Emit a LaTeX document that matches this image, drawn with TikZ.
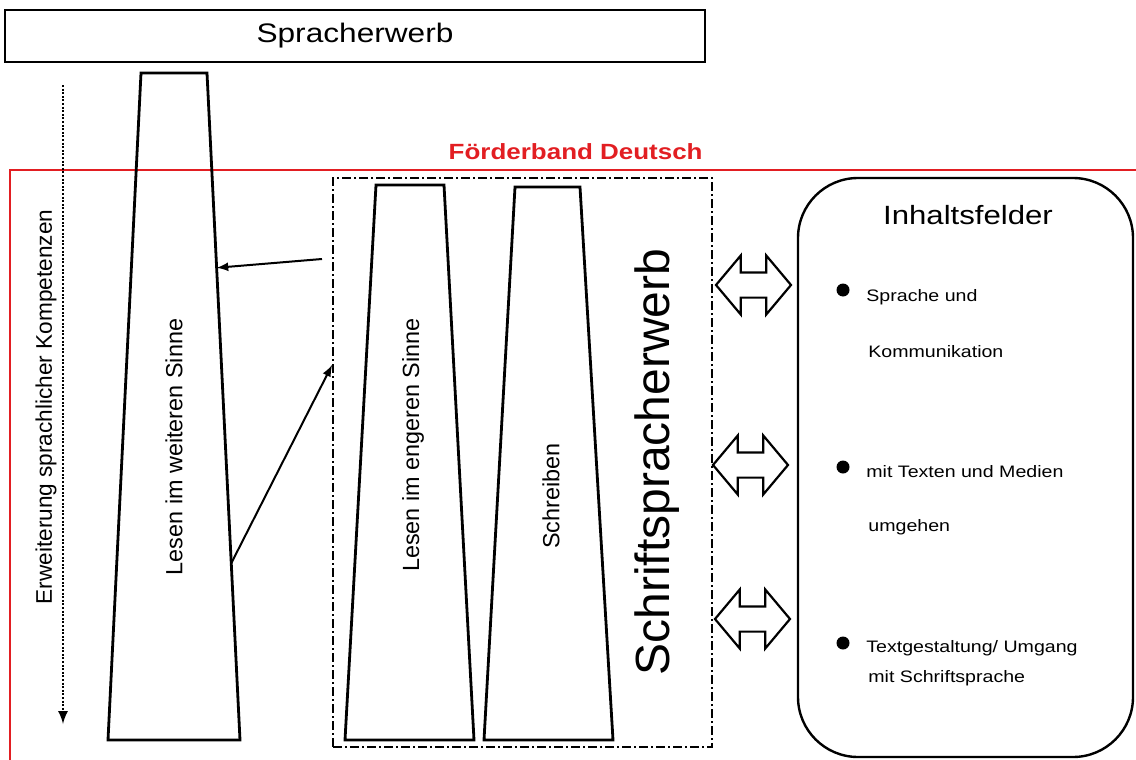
\documentclass[tikz,border=0pt]{standalone}
\usepackage{fontspec}
\setmainfont{Liberation Sans}
\newfontfamily\widefont[FakeStretch=1.18]{Liberation Sans}
\usetikzlibrary{shapes,arrows,calc}
\definecolor{bandred}{RGB}{226,30,34}

\begin{document}
\begin{tikzpicture}[x=0.5pt,y=-0.5pt]
		\tikzstyle {thick line} = [line width=1.4pt]
		\tikzstyle {link} = [line width=1pt, -latex]
		\tikzstyle {dashdot box} = [draw, line width=0.9pt, dash pattern=on 4.5pt off 1.5pt on 1pt off 1.5pt, inner sep=0pt]
		\tikzstyle {two way} = [double arrow, draw, line width=1.1pt, inner xsep=0pt, inner ysep=5.75pt, minimum height=37.5pt, double arrow head extend=8.5pt, double arrow tip angle=100]
		\tikzstyle {dot} = [circle, fill, inner sep=0pt, minimum size=6.5pt]
		\tikzstyle {item} = [anchor=west, inner sep=0pt, font=\widefont\fontsize{8.3}{10}\selectfont]
		\tikzstyle {upright} = [rotate=90, inner sep=0pt, font=\fontsize{11.7}{14}\selectfont]

		\useasboundingbox (0,0) rectangle (1136,760);

		% Foerderband
		\draw[bandred, line width=1.3pt] (1140,170) -| (10,765);
		\node[anchor=east, inner sep=0pt, text=bandred, font=\widefont\bfseries\fontsize{11}{13}\selectfont] (band) at (703,152) {Förderband Deutsch};

		\node[draw, thick line, minimum width=350pt, minimum height=26pt, font=\widefont\fontsize{13.4}{16}\selectfont] (spr) at (355,36) {Spracherwerb};

		% Kompetenzen
		\coordinate (ktop) at (63,85);
		\coordinate (kbot) at (63,724);
		\draw[line width=1.2pt, dash pattern=on 1pt off 0.8pt, -latex] (ktop) -- (kbot);
		\node[upright, font=\fontsize{11.3}{14}\selectfont] (erw) at (46,407) {Erweiterung sprachlicher Kompetenzen};

		% Lesen im weiteren Sinne
		\coordinate (lw1) at (141,73);
		\coordinate (lw2) at (207,73);
		\coordinate (lw3) at (240,740);
		\coordinate (lw4) at (108,740);
		\draw[thick line] (lw1) -- (lw2) -- (lw3) -- (lw4) -- cycle;
		\node[upright] (lwtext) at (174,447) {Lesen im weiteren Sinne};

		% Schriftspracherwerb
		\node[dashdot box, minimum width=189.5pt, minimum height=284.5pt] (schrift) at (522.5,462.5) {};

		\coordinate (le1) at (376,185);
		\coordinate (le2) at (444,185);
		\coordinate (le3) at (474,740);
		\coordinate (le4) at (345,740);
		\draw[thick line] (le1) -- (le2) -- (le3) -- (le4) -- cycle;
		\node[upright] (letext) at (413,445) {Lesen im engeren Sinne};

		\coordinate (sb1) at (515,187);
		\coordinate (sb2) at (580,187);
		\coordinate (sb3) at (613,740);
		\coordinate (sb4) at (484,740);
		\draw[thick line] (sb1) -- (sb2) -- (sb3) -- (sb4) -- cycle;
		\node[upright] (sbtext) at (551,496) {Schreiben};

		\node[upright, font=\fontsize{24}{28}\selectfont] (swtext) at (657,462) {Schriftspracherwerb};

		\coordinate (from) at (322,259);
		\draw[link] (from) -- ($(lw2)!0.292!(lw3)$);
		\draw[link] ($(lw2)!0.735!(lw3)$) -- ($(schrift.north west)!0.329!(schrift.south west)$);

		% Inhaltsfelder
		\node[draw, line width=1.2pt, rounded corners=30pt, minimum width=167.5pt, minimum height=289.5pt] (felder) at (965.5,467.5) {};
		\node[inner sep=0pt, font=\widefont\fontsize{13.2}{16}\selectfont] (title) at (968,215) {Inhaltsfelder};

		\node[two way] (da1) at (753.5,285) {};
		\node[two way] (da2) at (750.5,465) {};
		\node[two way] (da3) at (752.5,619) {};

		\node[dot] (b1) at (843,290) {};
		\node[dot] (b2) at (843,467) {};
		\node[dot] (b3) at (843,643) {};

		\node[item] (i1) at (866,297) {Sprache und};
		\node[item] (i2) at (868,352) {Kommunikation};
		\node[item] (i3) at (866,472) {mit Texten und Medien};
		\node[item] (i4) at (868,527) {umgehen};
		\node[item] (i5) at (866,648) {Textgestaltung/ Umgang};
		\node[item] (i6) at (868,678) {mit Schriftsprache};
	\end{tikzpicture}
\end{document}
